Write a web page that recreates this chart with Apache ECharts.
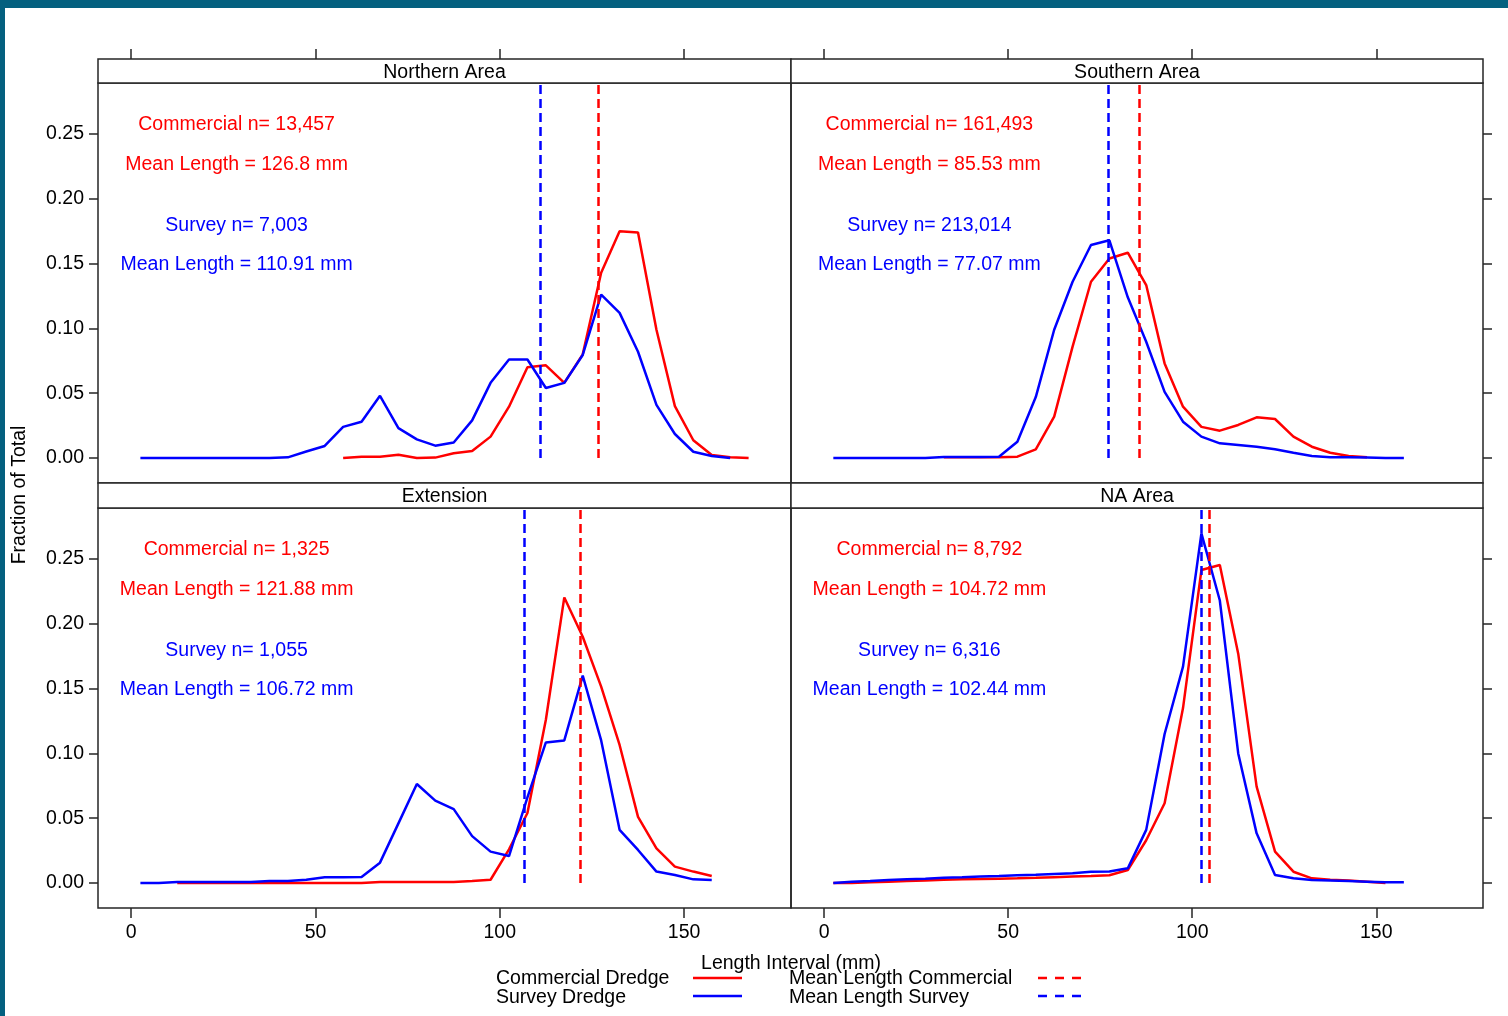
<!DOCTYPE html>
<html>
<head>
<meta charset="utf-8">
<script src="https://cdn.jsdelivr.net/npm/echarts@6/dist/echarts.min.js"></script>
<style>
  html, body { margin: 0; padding: 0; background: #fff; }
  #chart { width: 1508px; height: 1016px; }
</style>
</head>
<body>
<div id="chart"></div>
<script>
// length class midpoints (mm)
const lengths = [2.5, 7.5, 12.5, 17.5, 22.5, 27.5, 32.5, 37.5, 42.5, 47.5, 52.5, 57.5,
  62.5, 67.5, 72.5, 77.5, 82.5, 87.5, 92.5, 97.5, 102.5, 107.5, 112.5, 117.5,
  122.5, 127.5, 132.5, 137.5, 142.5, 147.5, 152.5, 157.5, 162.5, 167.5]

const panelNames = ['Northern Area', 'Southern Area', 'Extension', 'NA Area']
const commercialN = ['13,457', '161,493', '1,325', '8,792']
const surveyN = ['7,003', '213,014', '1,055', '6,316']
const commercialMean = [126.8, 85.53, 121.88, 104.72]
const surveyMean = [110.91, 77.07, 106.72, 102.44]

const xTicks = [0, 50, 100, 150]
const yTicks = [0, 0.05, 0.1, 0.15, 0.2, 0.25]

// fraction of total per length class, null = no data
const northernCommercial = [null, null, null, null, null, null, null, null, null, null, null, 0,
  0.001, 0.001, 0.0025, 0, 0.0003, 0.0036, 0.0054, 0.0165, 0.0396, 0.070, 0.0715, 0.058,
  0.080, 0.143, 0.175, 0.174, 0.099, 0.040, 0.0137, 0.0023, 0.0005, 0]
const northernSurvey = [0, 0, 0, 0, 0, 0, 0, 0, 0.0005, 0.005, 0.0093, 0.024,
  0.028, 0.048, 0.023, 0.0144, 0.0095, 0.012, 0.029, 0.058, 0.076, 0.076, 0.054, 0.058,
  0.0795, 0.126, 0.112, 0.082, 0.041, 0.0185, 0.0048, 0.0015, 0, null]

const southernCommercial = [null, null, null, null, null, null, 0.0005, 0.0005, 0.0005, 0.0005, 0.001, 0.0067,
  0.0319, 0.0859, 0.136, 0.154, 0.1584, 0.1335, 0.073, 0.0396, 0.024, 0.0211, 0.0255, 0.0314,
  0.0301, 0.0165, 0.0087, 0.004, 0.0015, 0.0005, null, null, null, null]
const southernSurvey = [0, 0, 0, 0, 0, 0, 0.0008, 0.0008, 0.0008, 0.001, 0.0126, 0.047,
  0.099, 0.136, 0.1644, 0.168, 0.124, 0.0897, 0.051, 0.028, 0.0165, 0.0113, 0.010, 0.0087,
  0.0067, 0.004, 0.0015, 0.0005, 0.0005, 0.0003, 0, 0, null, null]

const extensionCommercial = [null, null, 0, 0, 0, 0, 0, 0, 0, 0, 0, 0,
  0, 0.0008, 0.0008, 0.0008, 0.0008, 0.0008, 0.0015, 0.0025, 0.026, 0.054, 0.126, 0.2204,
  0.190, 0.1515, 0.1065, 0.051, 0.0267, 0.0126, 0.0088, 0.0054, null, null]
const extensionSurvey = [0, 0, 0.0008, 0.0008, 0.0008, 0.0008, 0.0008, 0.0015, 0.0015, 0.0025, 0.0044, 0.0044,
  0.0047, 0.0157, 0.046, 0.0764, 0.0636, 0.057, 0.0362, 0.0242, 0.0208, 0.066, 0.1085, 0.110,
  0.160, 0.110, 0.041, 0.0255, 0.0088, 0.0062, 0.0028, 0.0023, null, null]

const naCommercial = [0, 0, 0.0005, 0.001, 0.0015, 0.002, 0.0025, 0.0028, 0.003, 0.0033, 0.0036, 0.004,
  0.0045, 0.005, 0.0054, 0.006, 0.010, 0.033, 0.0615, 0.135, 0.2415, 0.2454, 0.177, 0.0744,
  0.0242, 0.0087, 0.0036, 0.0025, 0.002, 0.001, 0, null, null, null]
const naSurvey = [0, 0.001, 0.0015, 0.0023, 0.0028, 0.0033, 0.004, 0.0044, 0.005, 0.0054, 0.006, 0.0064,
  0.007, 0.0075, 0.0087, 0.0089, 0.0113, 0.041, 0.115, 0.167, 0.2698, 0.218, 0.100, 0.0383,
  0.0062, 0.0036, 0.0023, 0.002, 0.0015, 0.001, 0.0005, 0.0005, null, null]

const commercial = [northernCommercial, southernCommercial, extensionCommercial, naCommercial]
const survey = [northernSurvey, southernSurvey, extensionSurvey, naSurvey]

const RED = '#ff0000'
const BLUE = '#0000ff'
const FRAME = '#262626'
const TEAL = '#04607f'
const FONT = '"Liberation Sans", Arial, sans-serif'
const FS = 19.5

const X_MIN = -9
const X_MAX = 179
const Y_MIN = -0.0193
const Y_MAX = 0.2894

const toPairs = (values) =>
  values.reduce((acc, v, i) => (v === null ? acc : [...acc, [lengths[i], v]]), [])

const panelLeft = [98, 791]
const panelWidth = [693, 692]
const panelTop = [83, 508]
const stripTop = [59, 483]
const annoX = 28.6
const annoY = [0.259, 0.228, 0.181, 0.1505]

const grids = []
const xAxes = []
const yAxes = []
const series = []
const graphics = [
  { type: 'rect', silent: true, shape: { x: 0, y: 0, width: 1508, height: 8 }, style: { fill: TEAL } },
  { type: 'rect', silent: true, shape: { x: 0, y: 0, width: 5, height: 1016 }, style: { fill: TEAL } },
]

const textEl = (text, x, y, opts = {}) => ({
  type: 'text',
  silent: true,
  x,
  y,
  rotation: opts.rotation || 0,
  style: {
    text,
    fill: opts.color || '#000',
    fontSize: FS,
    fontFamily: FONT,
    align: opts.align || 'left',
    textAlign: opts.align || 'left',
    verticalAlign: 'middle',
    textVerticalAlign: 'middle',
  },
})

panelNames.forEach((name, i) => {
  const col = i % 2
  const row = Math.floor(i / 2)
  grids.push({
    left: panelLeft[col],
    top: panelTop[row],
    width: panelWidth[col],
    height: 400,
    show: true,
    borderColor: FRAME,
    borderWidth: 1.5,
    backgroundColor: 'transparent',
  })
  xAxes.push({
    gridIndex: i,
    type: 'value',
    min: X_MIN,
    max: X_MAX,
    position: row === 0 ? 'top' : 'bottom',
    offset: row === 0 ? panelTop[0] - stripTop[0] : 0,
    axisLine: { show: false, onZero: false },
    axisTick: { show: true, length: 10, customValues: xTicks, lineStyle: { color: FRAME, width: 1.5 } },
    axisLabel: {
      show: row === 1,
      customValues: xTicks,
      margin: 15,
      fontSize: FS,
      fontFamily: FONT,
      color: '#000',
    },
    splitLine: { show: false },
  })
  yAxes.push({
    gridIndex: i,
    type: 'value',
    min: Y_MIN,
    max: Y_MAX,
    position: col === 0 ? 'left' : 'right',
    axisLine: { show: false, onZero: false },
    axisTick: { show: true, length: 9, customValues: yTicks, lineStyle: { color: FRAME, width: 1.5 } },
    axisLabel: {
      show: col === 0,
      customValues: yTicks,
      formatter: (v) => v.toFixed(2),
      margin: 14,
      padding: [4, 0, 0, 0],
      fontSize: FS,
      fontFamily: FONT,
      color: '#000',
    },
    splitLine: { show: false },
  })

  series.push({
    name: 'Commercial Dredge',
    type: 'line',
    xAxisIndex: i,
    yAxisIndex: i,
    data: toPairs(commercial[i]),
    symbol: 'none',
    lineStyle: { color: RED, width: 2.5 },
    animation: false,
  })
  series.push({
    name: 'Survey Dredge',
    type: 'line',
    xAxisIndex: i,
    yAxisIndex: i,
    data: toPairs(survey[i]),
    symbol: 'none',
    lineStyle: { color: BLUE, width: 2.5 },
    animation: false,
    markLine: {
      silent: true,
      symbol: ['none', 'none'],
      label: { show: false },
      animation: false,
      data: [
        [
          { coord: [commercialMean[i], 0], lineStyle: { color: RED, width: 2.5, type: [9, 5] } },
          { coord: [commercialMean[i], Y_MAX] },
        ],
        [
          { coord: [surveyMean[i], 0], lineStyle: { color: BLUE, width: 2.5, type: [9, 5] } },
          { coord: [surveyMean[i], Y_MAX] },
        ],
      ],
    },
  })
  const annoTexts = [
    ['Commercial n= ' + commercialN[i], RED],
    ['Mean Length = ' + commercialMean[i] + ' mm', RED],
    ['Survey n= ' + surveyN[i], BLUE],
    ['Mean Length = ' + surveyMean[i] + ' mm', BLUE],
  ]
  series.push({
    type: 'scatter',
    xAxisIndex: i,
    yAxisIndex: i,
    symbolSize: 0,
    silent: true,
    animation: false,
    itemStyle: { opacity: 1 },
    label: { show: true, position: 'inside', offset: [0, 2], fontSize: FS, fontFamily: FONT },
    data: annoTexts.map(([text, color], k) => ({
      value: [annoX, annoY[k]],
      label: { formatter: text, color },
    })),
  })

  // strip with panel name
  graphics.push({
    type: 'rect',
    silent: true,
    shape: { x: panelLeft[col], y: stripTop[row], width: panelWidth[col], height: panelTop[row] - stripTop[row] },
    style: { fill: '#fff', stroke: FRAME, lineWidth: 1.5 },
  })
  graphics.push(
    textEl(name, panelLeft[col] + panelWidth[col] / 2, (stripTop[row] + panelTop[row]) / 2 + 1.5, { align: 'center' }),
  )
})

// axis titles and key
graphics.push(textEl('Fraction of Total', 20, 495, { align: 'center', rotation: Math.PI / 2 }))
graphics.push(textEl('Length Interval (mm)', 791, 964, { align: 'center' }))
graphics.push(textEl('Commercial Dredge', 496, 979))
graphics.push(textEl('Survey Dredge', 496, 998))
graphics.push(textEl('Mean Length Commercial', 789, 979))
graphics.push(textEl('Mean Length Survey', 789, 998))
graphics.push({ type: 'line', silent: true, shape: { x1: 693, y1: 978, x2: 742, y2: 978 }, style: { stroke: RED, lineWidth: 2.5 } })
graphics.push({ type: 'line', silent: true, shape: { x1: 693, y1: 996, x2: 742, y2: 996 }, style: { stroke: BLUE, lineWidth: 2.5 } })
graphics.push({ type: 'line', silent: true, shape: { x1: 1038, y1: 978, x2: 1082, y2: 978 }, style: { stroke: RED, lineWidth: 2.5, lineDash: [9, 8] } })
graphics.push({ type: 'line', silent: true, shape: { x1: 1038, y1: 996, x2: 1082, y2: 996 }, style: { stroke: BLUE, lineWidth: 2.5, lineDash: [9, 8] } })

const chart = echarts.init(document.getElementById('chart'))
chart.setOption({
  backgroundColor: '#fff',
  animation: false,
  grid: grids,
  xAxis: xAxes,
  yAxis: yAxes,
  series,
  graphic: graphics,
})
</script>
</body>
</html>
